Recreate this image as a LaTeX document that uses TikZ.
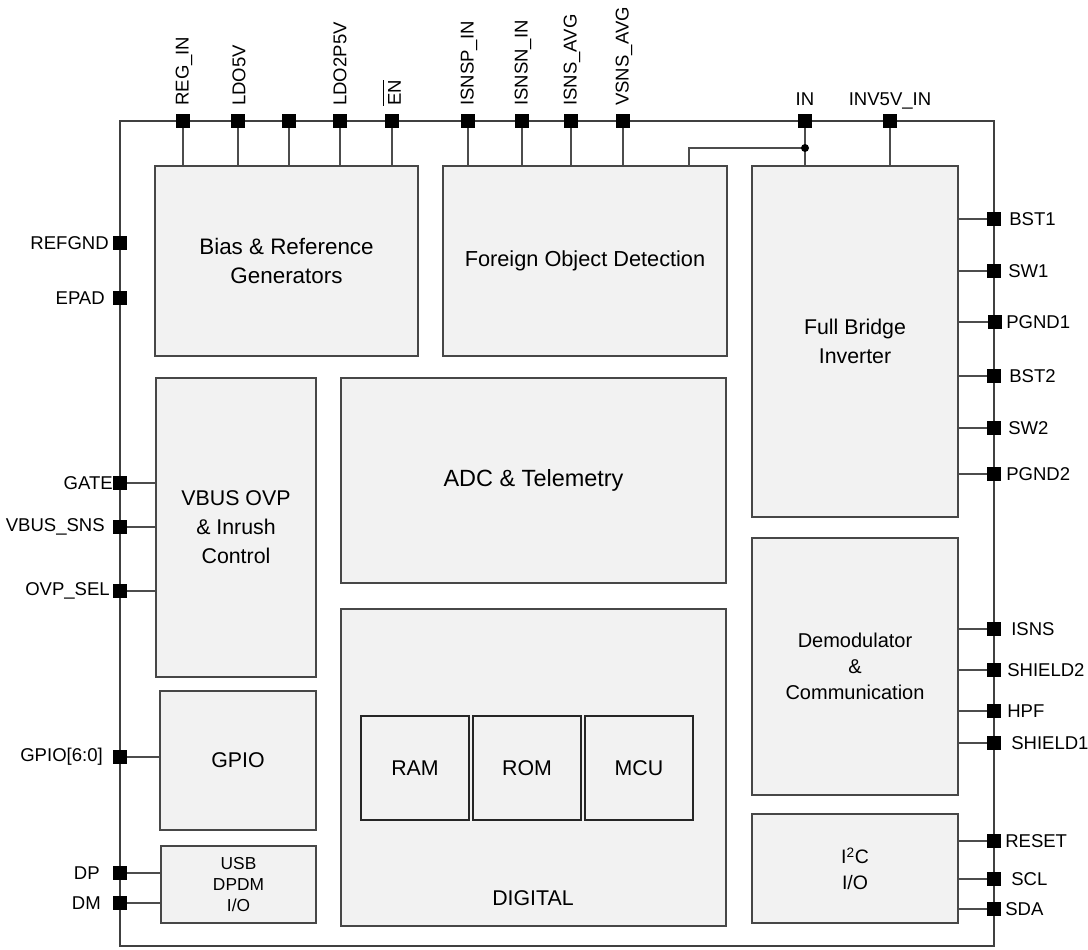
\documentclass[tikz,border=0pt]{standalone}
\usepackage{fontspec}
\setmainfont{Liberation Sans}
\usetikzlibrary{fit}
\newcommand\ovlbar[1]{\leavevmode\vbox{\hrule height 0.7pt\kern 3pt\hbox{#1}}}
\begin{document}
\begin{tikzpicture}[x=0.75pt,y=-0.75pt,
  blk/.style={draw=black!72, fill=black!5, line width=0.9pt, inner sep=0pt},
  sub/.style={draw=black!85, fill=black!5, line width=0.8pt, inner sep=0pt},
  pin/.style={rectangle, fill=black, draw=none, minimum size=10.5pt, inner sep=0pt},
  wire/.style={draw=black!70, line width=0.8pt},
  plab/.style={font=\fontsize{13.9}{16}\selectfont, inner sep=0pt},
  btxt/.style={font=\fontsize{16}{21.8}\selectfont, align=center, inner sep=0pt},
]
\useasboundingbox (0,0) rectangle (1088,949);

% outer border
\draw[draw=black!75, line width=0.9pt] (120,121) rectangle (994,946);

% blocks
\node[blk, fit={(155,166) (418,356)}] (bias) {};
\node[blk, fit={(443,166) (727,356)}] (fod) {};
\node[blk, fit={(752,166) (958,517)}] (fbi) {};
\node[blk, fit={(156,378) (316,677)}] (vbus) {};
\node[blk, fit={(341,378) (726,583)}] (adc) {};
\node[blk, fit={(160,691) (316,830)}] (gpio) {};
\node[blk, fit={(161,846) (316,923)}] (usb) {};
\node[blk, fit={(341,609) (726,926)}] (dig) {};
\node[sub, fit={(361,716) (469,820)}] (ram) {};
\node[sub, fit={(473,716) (581,820)}] (rom) {};
\node[sub, fit={(585,716) (693,820)}] (mcu) {};
\node[blk, fit={(752,538) (958,795)}] (demod) {};
\node[blk, fit={(752,814) (958,923)}] (i2c) {};

% block texts
\node[btxt, font=\fontsize{16.8}{22}\selectfont] at (bias) {Bias \& Reference\\Generators};
\node[btxt, font=\fontsize{16.3}{22}\selectfont] at (fod) {Foreign Object Detection};
\node[btxt] at (fbi) {Full Bridge\\Inverter};
\node[btxt] at (vbus) {VBUS OVP\\\& Inrush\\Control};
\node[btxt, font=\fontsize{17.6}{22}\selectfont] at (adc) {ADC \& Telemetry};
\node[btxt] at (gpio) {GPIO};
\node[btxt, font=\fontsize{13}{16}\selectfont] at (usb) {USB\\DPDM\\I/O};
\node[btxt] at (533,898) {DIGITAL};
\node[btxt] at (ram) {RAM};
\node[btxt] at (rom) {ROM};
\node[btxt] at (mcu) {MCU};
\node[btxt, font=\fontsize{15}{19.5}\selectfont] at (demod) {Demodulator\\\&\\Communication};
\node[btxt, font=\fontsize{14.6}{19}\selectfont] at (i2c) {I\textsuperscript{2}C\\I/O};

% top pins
\foreach \n/\x in {pREG/183, pLDO5/238, pNC/289, pLDO25/340, pEN/392}{
  \node[pin] (\n) at (\x,121) {};
}
\foreach \n/\x in {pISP/468, pISN/522, pIAVG/571, pVAVG/623}{
  \node[pin] (\n) at (\x,121) {};
}
\node[pin] (pIN) at (805,121) {};
\node[pin] (pINV) at (890,121) {};

% left pins
\node[pin] (pREFGND) at (120,243) {};
\node[pin] (pEPAD) at (120,298) {};
\node[pin] (pGATE) at (120,483) {};
\node[pin] (pVBUS) at (120,527) {};
\node[pin] (pOVP) at (120,591) {};
\node[pin] (pGPIO) at (120,757) {};
\node[pin] (pDP) at (120,873) {};
\node[pin] (pDM) at (120,903) {};

% right pins
\node[pin] (pBST1) at (994,219) {};
\node[pin] (pSW1) at (994,271) {};
\node[pin] (pPGND1) at (995,322) {};
\node[pin] (pBST2) at (994,376) {};
\node[pin] (pSW2) at (994,428) {};
\node[pin] (pPGND2) at (994,474) {};
\node[pin] (pISNS) at (994,629) {};
\node[pin] (pSH2) at (994,670) {};
\node[pin] (pHPF) at (994,711) {};
\node[pin] (pSH1) at (994,743) {};
\node[pin] (pRESET) at (994,841) {};
\node[pin] (pSCL) at (994,879) {};
\node[pin] (pSDA) at (994,909) {};

% wires
\foreach \p in {pREG, pLDO5, pNC, pLDO25, pEN}{
  \draw[wire] (\p.south) -- (\p |- bias.north);
}
\foreach \p in {pISP, pISN, pIAVG, pVAVG}{
  \draw[wire] (\p.south) -- (\p |- fod.north);
}
\draw[wire] (pIN.south) -- (pIN |- fbi.north);
\draw[wire] (pINV.south) -- (pINV |- fbi.north);
\coordinate (jn) at (805,148);
\coordinate (fodin) at (689,166);
\draw[wire] (jn) -| (fodin);
\fill (jn) circle[radius=3pt];

\foreach \p in {pGATE, pVBUS, pOVP}{
  \draw[wire] (\p.east) -- (\p -| vbus.west);
}
\draw[wire] (pGPIO.east) -- (pGPIO -| gpio.west);
\draw[wire] (pDP.east) -- (pDP -| usb.west);
\draw[wire] (pDM.east) -- (pDM -| usb.west);

\foreach \p in {pBST1, pSW1, pPGND1, pBST2, pSW2, pPGND2}{
  \draw[wire] (\p.west) -- (\p -| fbi.east);
}
\foreach \p in {pISNS, pSH2, pHPF, pSH1}{
  \draw[wire] (\p.west) -- (\p -| demod.east);
}
\foreach \p in {pRESET, pSCL, pSDA}{
  \draw[wire] (\p.west) -- (\p -| i2c.east);
}

% top labels (rotated)
\node[plab, rotate=90, anchor=west] (lREG) at (184,106) {REG\_IN};
\node[plab, rotate=90, anchor=west] (lLDO5) at (239,106) {LDO5V};
\node[plab, rotate=90, anchor=west] (lLDO25) at (340,106) {LDO2P5V};
\node[plab, rotate=90, anchor=west] (lEN) at (392,106) {\ovlbar{EN}};
\node[plab, rotate=90, anchor=west] (lISP) at (469,106) {ISNSP\_IN};
\node[plab, rotate=90, anchor=west] (lISN) at (523,106) {ISNSN\_IN};
\node[plab, rotate=90, anchor=west] (lIAVG) at (572,106) {ISNS\_AVG};
\node[plab, rotate=90, anchor=west] (lVAVG) at (624,106) {VSNS\_AVG};
\node[plab, anchor=base] (lIN) at (805,105) {IN};
\node[plab, anchor=base] (lINV) at (890,105) {INV5V\_IN};

% left labels
\node[plab, anchor=east] at (109,243) {REFGND};
\node[plab, anchor=east] at (105,298) {EPAD};
\node[plab, anchor=east] at (113,483) {GATE};
\node[plab, anchor=east] at (105,527) {VBUS\_SNS};
\node[plab, anchor=east] at (110,591) {OVP\_SEL};
\node[plab, anchor=east] at (103,757) {GPIO[6:0]};
\node[plab, anchor=east] at (100,873) {DP};
\node[plab, anchor=east] at (101,903) {DM};

% right labels
\node[plab, anchor=west] at (1009,219) {BST1};
\node[plab, anchor=west] at (1008,271) {SW1};
\node[plab, anchor=west] at (1006,322) {PGND1};
\node[plab, anchor=west] at (1009,376) {BST2};
\node[plab, anchor=west] at (1008,428) {SW2};
\node[plab, anchor=west] at (1006,474) {PGND2};
\node[plab, anchor=west] at (1011,629) {ISNS};
\node[plab, anchor=west] at (1007,670) {SHIELD2};
\node[plab, anchor=west] at (1007,711) {HPF};
\node[plab, anchor=west] at (1011,743) {SHIELD1};
\node[plab, anchor=west] at (1005,841) {RESET};
\node[plab, anchor=west] at (1011,879) {SCL};
\node[plab, anchor=west] at (1005,909) {SDA};
\end{tikzpicture}
\end{document}
